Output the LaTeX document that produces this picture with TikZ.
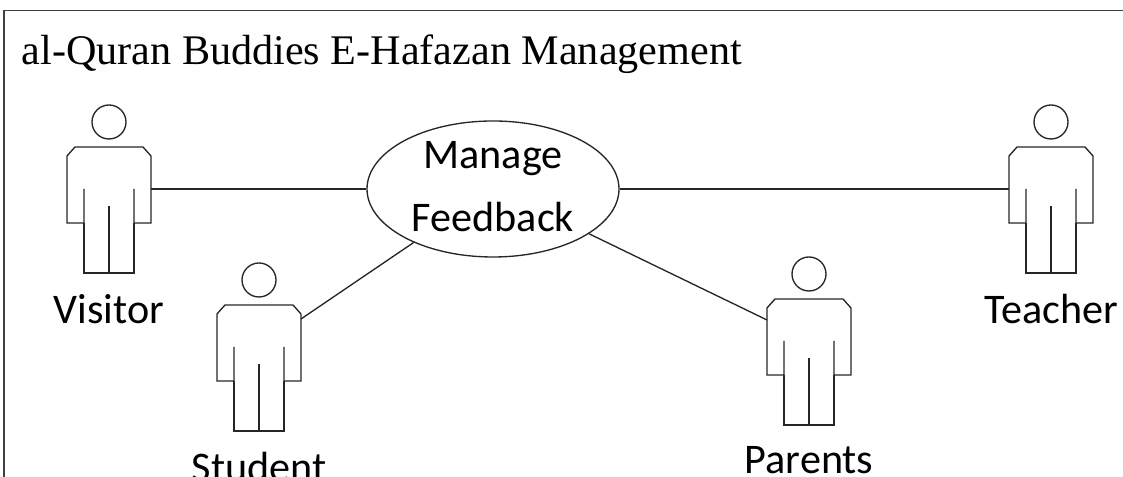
\documentclass[tikz,border=0pt]{standalone}
\usepackage{fontspec}
\setmainfont{Liberation Serif}
\newfontfamily\labelfont{Carlito}
\usetikzlibrary{calc,shapes.geometric}
\tikzset{
	figline/.style={line width=0.38pt, color=black!85},
	actorlabel/.style={font=\labelfont\fontsize{12}{14}\selectfont, inner sep=0, anchor=base},
}
\def\actorfig(#1)(#2,#3)#4(#5){
	\coordinate (#1) at (#2, #3);
	\draw[figline] (#1) circle (0.17);
	\draw[figline] ($(#1)+(-0.25,-0.67)$) -- ($(#1)+(-0.25,-1.01)$) -- ($(#1)+(-0.42,-1.01)$) -- ($(#1)+(-0.42,-0.34)$) -- ($(#1)+(-0.34,-0.25)$) -- ($(#1)+(0.34,-0.25)$) -- ($(#1)+(0.42,-0.34)$) -- ($(#1)+(0.42,-1.01)$) -- ($(#1)+(0.25,-1.01)$) -- ($(#1)+(0.25,-0.67)$);
	\draw[figline] ($(#1)+(-0.25,-1.01)$) -- ($(#1)+(-0.25,-1.51)$) -- ($(#1)+(0.25,-1.51)$) -- ($(#1)+(0.25,-1.01)$);
	\draw[figline] ($(#1)+(0,-0.84)$) -- ($(#1)+(0,-1.51)$);
	\node[actorlabel] (#1-label) at (#5) {#4};
}

\begin{document}
\begin{tikzpicture}
	\useasboundingbox (0, 0) rectangle (11.23, 4.77);

	\draw[line width=0.55pt, color=black!75] (0.04, 0) -- (0.04, 4.665) -- (11.23, 4.665);
	\node[font=\fontsize{12}{14}\selectfont, inner sep=0, anchor=base west] (title) at (0.21, 4.12) {al-Quran Buddies E-Hafazan Management};

	\node[draw, ellipse, figline, text=black, minimum width=2.52cm, minimum height=1.36cm, inner sep=0] (feedback) at (4.93, 2.88) {};
	\node[actorlabel] (manage) at (4.93, 3.08) {Manage};
	\node[actorlabel] (feedbacktext) at (4.93, 2.45) {Feedback};

	\actorfig(visitor)(1.09, 3.55){Visitor}(1.09, 1.53)
	\actorfig(student)(2.59, 1.97){Student}(2.59, -0.05)
	\actorfig(parents)(8.09, 2.03){Parents}(8.09, 0.03)
	\actorfig(teacher)(10.51, 3.55){Teacher}(10.51, 1.53)

	\coordinate (visitor-arm) at (1.51, 2.88);
	\coordinate (teacher-arm) at (10.09, 2.88);
	\coordinate (student-arm) at (3.01, 1.58);
	\coordinate (parents-arm) at (7.67, 1.57);

	\draw[figline] (visitor-arm) -- (feedback);
	\draw[figline] (teacher-arm) -- (feedback);
	\draw[figline] (student-arm) -- (feedback.214);
	\draw[figline] (parents-arm) -- (feedback.335);
\end{tikzpicture}
\end{document}
